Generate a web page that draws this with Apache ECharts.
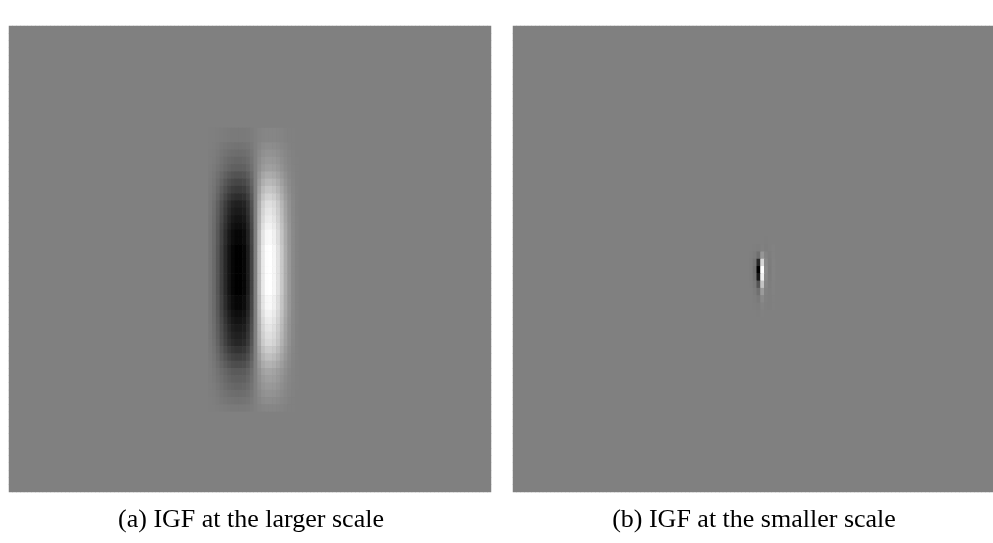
<!DOCTYPE html>
<html>
<head>
<meta charset="utf-8">
<script src="https://cdn.jsdelivr.net/npm/echarts@6/dist/echarts.min.js"></script>
<style>
  html, body { margin: 0; padding: 0; background: #fff; }
  #igf-chart { width: 993px; height: 543px; }
</style>
</head>
<body>
<div id="igf-chart"></div>
<script>
// image grid: 128 columns x 64 rows per panel, grey level 0..255 (128 = flat background)
const nCols = 128;
const nRows = 64;
const background = 128;

// (a) larger scale filter patch, rows 14..52, columns 53..78
const leftRow0 = 14;
const leftCol0 = 53;
const leftPatch = [
  [127,127,126,125,124,123,122,122,122,122,123,125,128,131,133,134,134,134,133,132,130,129,129,128,128,128],
  [127,127,126,125,124,123,122,122,122,122,123,125,128,131,133,134,134,134,133,132,130,129,129,128,128,128],
  [127,126,124,121,119,117,116,115,115,116,118,122,128,134,139,141,141,140,138,135,133,130,129,128,128,128],
  [126,125,122,118,115,112,110,109,109,110,113,119,128,137,144,147,147,146,143,139,135,132,130,128,128,128],
  [126,124,120,115,110,106,104,102,102,104,108,116,128,140,149,153,153,152,148,142,137,133,130,129,128,128],
  [125,122,117,112,106,101,97,96,96,97,103,113,128,143,154,159,160,158,153,146,139,134,131,129,128,128],
  [124,120,113,105,97,90,85,83,83,85,93,107,128,149,165,172,172,169,162,153,144,136,132,129,128,128],
  [123,118,109,99,88,79,73,70,70,73,83,101,128,155,175,184,185,181,172,160,148,139,133,129,128,128],
  [122,116,105,92,80,69,61,58,58,61,73,95,128,161,186,197,198,193,182,168,153,141,134,130,128,128],
  [121,114,101,86,71,58,49,45,45,49,63,89,128,167,196,209,211,205,192,175,157,144,135,130,128,128],
  [120,111,96,79,62,47,36,32,32,36,53,83,128,173,207,222,223,217,202,182,162,146,136,130,128,128],
  [120,110,94,76,58,42,30,26,26,30,48,80,128,176,212,228,230,222,206,186,164,147,136,130,128,128],
  [119,109,92,73,53,36,24,19,19,24,43,77,128,179,217,234,236,228,211,189,166,148,137,131,128,128],
  [119,108,90,69,49,31,18,13,13,18,38,74,128,182,223,241,242,234,216,193,169,150,137,131,128,128],
  [118,107,88,66,44,25,12,6,6,12,33,71,128,185,228,247,249,240,221,196,171,151,138,131,128,128],
  [118,107,88,66,44,25,12,6,6,12,33,71,128,185,228,247,249,240,221,196,171,151,138,131,128,128],
  [118,106,86,63,40,20,6,0,0,6,28,68,128,188,233,253,255,246,226,200,173,152,138,131,128,128],
  [118,106,86,63,40,20,6,0,0,6,28,68,128,188,233,253,255,246,226,200,173,152,138,131,128,128],
  [118,106,86,63,40,20,6,0,0,6,28,68,128,188,233,253,255,246,226,200,173,152,138,131,128,128],
  [118,106,86,63,40,20,6,0,0,6,28,68,128,188,233,253,255,246,226,200,173,152,138,131,128,128],
  [118,106,86,63,40,20,6,0,0,6,28,68,128,188,233,253,255,246,226,200,173,152,138,131,128,128],
  [118,106,86,63,40,20,6,0,0,6,28,68,128,188,233,253,255,246,226,200,173,152,138,131,128,128],
  [118,106,86,63,40,20,6,0,0,6,28,68,128,188,233,253,255,246,226,200,173,152,138,131,128,128],
  [118,107,88,66,44,25,12,6,6,12,33,71,128,185,228,247,249,240,221,196,171,151,138,131,128,128],
  [118,107,88,66,44,25,12,6,6,12,33,71,128,185,228,247,249,240,221,196,171,151,138,131,128,128],
  [119,108,90,69,49,31,18,13,13,18,38,74,128,182,223,241,242,234,216,193,169,150,137,131,128,128],
  [119,109,92,73,53,36,24,19,19,24,43,77,128,179,217,234,236,228,211,189,166,148,137,131,128,128],
  [120,110,94,76,58,42,30,26,26,30,48,80,128,176,212,228,230,222,206,186,164,147,136,130,128,128],
  [120,111,96,79,62,47,36,32,32,36,53,83,128,173,207,222,223,217,202,182,162,146,136,130,128,128],
  [121,113,99,82,66,52,43,38,38,43,58,86,128,170,202,216,217,211,197,178,160,145,135,130,128,128],
  [122,115,103,89,75,63,55,51,51,55,68,92,128,164,191,203,204,199,187,171,155,142,134,130,128,128],
  [123,117,107,95,84,74,67,64,64,67,78,98,128,158,181,191,192,187,177,164,151,140,133,130,128,128],
  [124,119,111,102,93,85,79,77,77,79,88,104,128,152,170,178,179,175,167,157,146,138,132,129,128,128],
  [125,121,115,108,102,96,91,90,90,91,98,110,128,146,160,166,166,163,157,150,142,135,131,129,128,128],
  [125,122,117,112,106,101,97,96,96,97,103,113,128,143,154,159,160,158,153,146,139,134,131,129,128,128],
  [126,124,120,115,110,106,104,102,102,104,108,116,128,140,149,153,153,152,148,142,137,133,130,129,128,128],
  [126,125,122,118,115,112,110,109,109,110,113,119,128,137,144,147,147,146,143,139,135,132,130,128,128,128],
  [127,126,124,121,119,117,116,115,115,116,118,122,128,134,139,141,141,140,138,135,133,130,129,128,128,128],
  [127,127,126,125,124,123,122,122,122,122,123,125,128,131,133,134,134,134,133,132,130,129,129,128,128,128]
];

// (b) smaller scale filter patch, rows 29..39, columns 62..69
const rightRow0 = 29;
const rightCol0 = 62;
const rightPatch = [
  [128,128,128,128,128,127,128,128],
  [128,128,127,126,129,126,128,130],
  [128,127,124,112,150,131,126,130],
  [128,126,118,40,215,136,125,131],
  [128,126,114,0,255,138,124,131],
  [128,126,116,25,240,136,125,131],
  [128,127,121,85,195,133,126,130],
  [128,128,124,112,155,130,127,130],
  [128,128,126,122,137,129,127,129],
  [128,128,127,126,131,128,127,129],
  [128,128,128,127,129,128,128,128]
];

const captions = ['(a) IGF at the larger scale', '(b) IGF at the smaller scale'];

function buildCells(patch, row0, col0) {
  const cells = [];
  for (let r = 0; r < nRows; r++) {
    for (let c = 0; c < nCols; c++) {
      const pr = r - row0, pc = c - col0;
      let v = background;
      if (pr >= 0 && pr < patch.length && pc >= 0 && pc < patch[pr].length) v = patch[pr][pc];
      cells.push([c, r, v]);
    }
  }
  return cells;
}

const colCats = Array.from({ length: nCols }, (_, i) => i);
const rowCats = Array.from({ length: nRows }, (_, i) => i);

const hiddenAxis = {
  axisLine: { show: false },
  axisTick: { show: false },
  axisLabel: { show: false },
  splitLine: { show: false }
};

const panelGrid = { show: true, backgroundColor: '#808080', borderWidth: 0, top: 26, height: 466 };

const myChart = echarts.init(document.getElementById('igf-chart'));
const option = {
  animation: false,
  backgroundColor: '#ffffff',
  grid: [
    Object.assign({ left: 9, width: 482 }, panelGrid),
    Object.assign({ left: 513, width: 480 }, panelGrid)
  ],
  xAxis: [
    Object.assign({ type: 'category', gridIndex: 0, data: colCats }, hiddenAxis),
    Object.assign({ type: 'category', gridIndex: 1, data: colCats }, hiddenAxis)
  ],
  yAxis: [
    Object.assign({ type: 'category', gridIndex: 0, data: rowCats, inverse: true }, hiddenAxis),
    Object.assign({ type: 'category', gridIndex: 1, data: rowCats, inverse: true }, hiddenAxis)
  ],
  visualMap: {
    show: false,
    type: 'continuous',
    min: 0,
    max: 255,
    dimension: 2,
    seriesIndex: [0, 1],
    inRange: { color: ['#000000', '#ffffff'] }
  },
  series: [
    {
      type: 'heatmap',
      xAxisIndex: 0,
      yAxisIndex: 0,
      progressive: 0,
      itemStyle: { borderWidth: 0 },
      data: buildCells(leftPatch, leftRow0, leftCol0)
    },
    {
      type: 'heatmap',
      xAxisIndex: 1,
      yAxisIndex: 1,
      progressive: 0,
      itemStyle: { borderWidth: 0 },
      data: buildCells(rightPatch, rightRow0, rightCol0)
    }
  ],
  graphic: [
    {
      type: 'text',
      x: 251,
      y: 520,
      style: {
        text: captions[0],
        font: '26px "Liberation Serif"',
        fill: '#000',
        textAlign: 'center',
        textVerticalAlign: 'middle'
      }
    },
    {
      type: 'text',
      x: 754,
      y: 520,
      style: {
        text: captions[1],
        font: '26px "Liberation Serif"',
        fill: '#000',
        textAlign: 'center',
        textVerticalAlign: 'middle'
      }
    }
  ]
};
myChart.setOption(option);
</script>
</body>
</html>
